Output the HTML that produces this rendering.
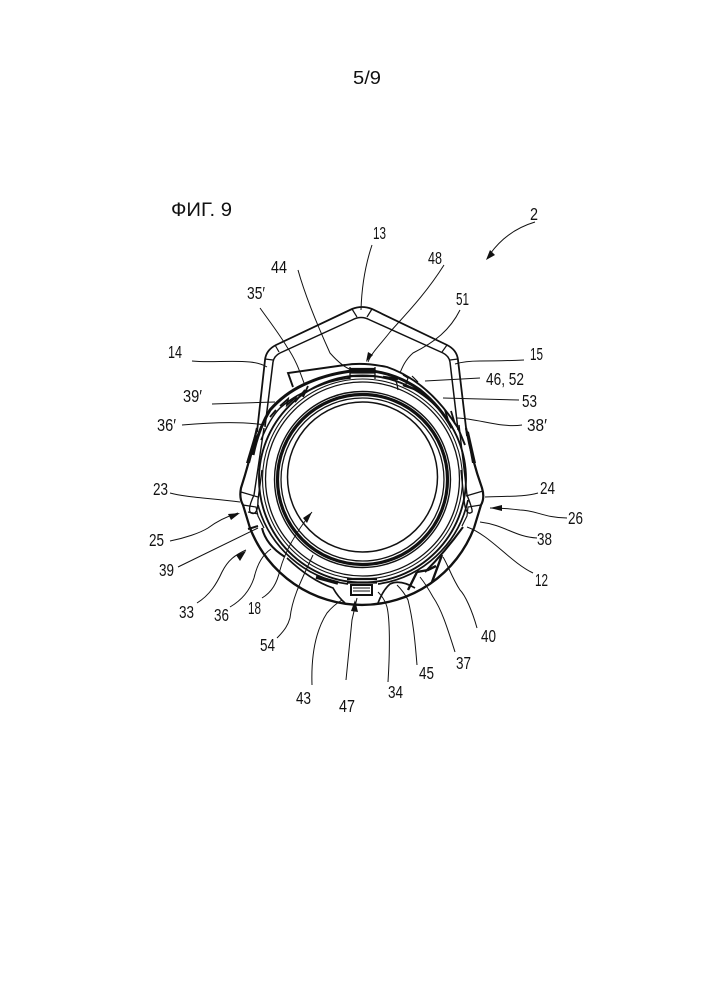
<!DOCTYPE html>
<html><head><meta charset="utf-8"><style>
html,body{margin:0;padding:0;background:#fff}
svg{display:block}
text{font-family:"Liberation Sans",sans-serif;fill:#111}
.l{font-size:17.5px}
</style></head><body>
<svg width="706" height="999" viewBox="0 0 706 999" xmlns="http://www.w3.org/2000/svg">
<text x="353" y="84" font-size="18" textLength="28" lengthAdjust="spacingAndGlyphs">5/9</text>
<text x="171" y="216" font-size="19" textLength="61" lengthAdjust="spacingAndGlyphs">ФИГ. 9</text>
<g fill="none" stroke="#111" stroke-width="1.2">
<!-- handle -->
<path stroke-width="1.800" d="M257 432L265 360Q266 350 276 345L352 309Q362 305 372 309L447 345Q457 350 458 360L467 436"/>
<path stroke-width="1.500" d="M265 427L273 362Q274 356 280 353L352 320Q361 315 370 320L443 353Q449 356 450 362L458 430"/>
<path d="M275 345L279 352M447 345L442 352M352 309L357 317M372 309L367 317M265 359L273 360M458 359L450 360"/>
<!-- outer body sides -->
<path stroke-width="2.200" d="M257 428Q250 460 241 488Q239 498 243 505L250 528"/>
<path stroke-width="2.200" d="M466 428Q472 460 482 488Q485 498 481 505L474 528"/>
<!-- shell lower arc -->
<path stroke-width="2.400" d="M250 528A120 120 0 0 0 474 528"/>
<!-- rings -->
<circle cx="362.500" cy="479" r="103.500" stroke-width="1.900"/>
<circle cx="362.500" cy="479" r="100" stroke-width="1.100"/>
<circle cx="362.500" cy="479" r="97" stroke-width="1.300"/>
<circle cx="362.500" cy="479.500" r="88" stroke-width="1.400"/>
<circle cx="362.500" cy="479.500" r="85" stroke-width="3.200"/>
<circle cx="362.500" cy="479.500" r="81.500" stroke-width="1.300"/>
<circle cx="362.500" cy="477" r="75" stroke-width="1.500"/>
<!-- upper shell arcs -->
<path stroke-width="1.900" d="M293 387L288 373L345 365Q363 362 387 367Q428 381 458 428L465 445"/>
<path stroke-width="3" d="M253 455Q258 430 270 410Q284 394 303 385Q330 372 363 370Q395 372 420 390Q440 406 452 428"/>
<path stroke-width="1.500" d="M261 440Q270 418 280 408Q295 395 310 390Q330 380 350 378"/>
<!-- top detail -->
<path stroke-width="2.200" d="M350 369H375M350 372.500H375M350 376H375"/>
<path stroke-width="1.300" d="M350 367V379M375 367V379"/>
<path stroke-width="2.400" d="M383 377L398 379M403 385L420 391"/>
<path d="M393 375L397 384L398 390M403 375L408 378L405 387M412 376L418 382"/>
<path stroke-width="1.800" d="M280 406L288 399L287 405L296 397L295 402L305 390L303 397L308 386M270 417L276 410M445 410L448 420M451 411L455 424"/>
<!-- wedges -->
<path fill="#111" stroke="none" d="M255 433L257 436L250 463L246 463Z"/>
<path fill="#111" stroke="none" d="M466 430L469 432L476 463L472 463Z"/>
<!-- side clips -->
<path stroke-width="1.400" d="M264 428L254 495Q247 510 251 513Q258 516 258 500L262 470M459 425L467 495Q473 510 472 512Q466 517 464 500L461 470"/>
<path d="M241 492L258 497M483 491L466 496M243 505L256 507L258 516L264 528M481 505L468 507L467 516L462 526M248 512L258 514"/>
<path stroke-width="2" d="M248 529L258 526"/>
<path stroke-width="2" d="M262 528Q266 545 285 557M463 527Q445 552 425 572"/>
<!-- lower inner arcs -->
<path stroke-width="1.700" d="M258 505A108 108 0 0 0 348 584M378 584A108 108 0 0 0 468 500"/>
<path stroke-width="1.700" d="M287 558Q310 580 333 588Q338 597 345 603M378 603Q383 590 390 584Q400 579 415 588"/>
<!-- bottom detail -->
<path stroke-width="2" d="M351 585H372V595H351Z"/>
<path stroke-width="2.200" d="M347 579H377M347 582.500H377"/>
<path stroke-width="1" d="M353 588H370M353 591H370"/>
<path stroke-width="3.500" d="M316 577L338 583"/>
<path stroke-width="2.400" d="M408 590L417 572M432 582L442 555M417 572L428 570L436 566"/>
</g>
<!-- leader lines -->
<g fill="none" stroke="#111" stroke-width="1">
<path d="M535 222C515 228 500 240 490 254"/>
<path d="M372 245Q362 275 361 310"/>
<path d="M298 270C305 295 315 320 330 353C338 362 345 368 352 370"/>
<path d="M444 265C425 295 405 315 390 332C380 345 372 352 368 362"/>
<path d="M460 310C450 330 435 342 413 353C405 360 402 368 400 373"/>
<path d="M260 308C270 322 280 335 287 347C296 360 300 372 304 383"/>
<path d="M192 361C210 363 230 360 250 362Q260 363 267 367"/>
<path d="M455 364Q465 361 480 361Q500 361 524 360"/>
<path d="M212 404L275 402"/>
<path d="M182 425C205 423 240 421 265 425"/>
<path d="M425 381L480 378"/>
<path d="M443 398L519 400"/>
<path d="M457 418C480 419 500 428 522 425"/>
<path d="M170 493C185 497 207 498 240 502"/>
<path d="M485 497C505 496 525 497 538 493"/>
<path d="M170 541C185 538 200 533 208 528C216 522 225 517 238 513"/>
<path d="M178 567L258 528"/>
<path d="M197 603C210 595 217 583 222 572C228 560 235 555 246 550"/>
<path d="M230 607C242 600 250 590 254 578C257 565 262 555 271 549"/>
<path d="M262 598C272 592 277 583 280 570C284 555 292 537 312 512"/>
<path d="M277 638C285 630 288 625 290 618C292 600 298 587 313 555"/>
<path d="M567 518C545 518 535 510 520 510Q505 508 490 508"/>
<path d="M537 538C515 537 505 525 480 522"/>
<path d="M533 573C510 562 490 535 467 527"/>
<path d="M477 628C472 610 465 595 460 590C452 578 448 565 443 557"/>
<path d="M455 652C448 630 442 610 433 597C428 588 424 582 420 577"/>
<path d="M417 665C415 640 413 620 408 600C405 594 400 588 397 585"/>
<path d="M388 682C390 650 390 620 387 607C385 600 382 596 378 592"/>
<path d="M346 680L352 620L357 598"/>
<path d="M312 685C311 655 316 630 327 613C332 607 337 603 342 600"/>
</g>
<g fill="#111">
<path d="M486 260L490 250L495 255Z"/>
<path d="M366 362L368 352L373 355Z"/>
<path d="M240 513L228 514L231 520Z"/>
<path d="M246 551L236 555L240 561Z"/>
<path d="M312 512L303 518L307 523Z"/>
<path d="M355 600L351 611L358 612Z"/>
<path d="M490 508L502 505L502 511Z"/>
</g>
<!-- labels -->
<g>
<text class="l" x="530" y="220" textLength="8" lengthAdjust="spacingAndGlyphs">2</text>
<text class="l" x="373" y="239" textLength="13" lengthAdjust="spacingAndGlyphs">13</text>
<text class="l" x="428" y="264" textLength="14" lengthAdjust="spacingAndGlyphs">48</text>
<text class="l" x="271" y="273" textLength="16" lengthAdjust="spacingAndGlyphs">44</text>
<text class="l" x="247" y="299" textLength="18" lengthAdjust="spacingAndGlyphs">35′</text>
<text class="l" x="456" y="305" textLength="13" lengthAdjust="spacingAndGlyphs">51</text>
<text class="l" x="168" y="358" textLength="14" lengthAdjust="spacingAndGlyphs">14</text>
<text class="l" x="530" y="360" textLength="13" lengthAdjust="spacingAndGlyphs">15</text>
<text class="l" x="486" y="385" textLength="38" lengthAdjust="spacingAndGlyphs">46, 52</text>
<text class="l" x="183" y="402" textLength="19" lengthAdjust="spacingAndGlyphs">39′</text>
<text class="l" x="522" y="407" textLength="15" lengthAdjust="spacingAndGlyphs">53</text>
<text class="l" x="157" y="431" textLength="19" lengthAdjust="spacingAndGlyphs">36′</text>
<text class="l" x="527" y="431" textLength="20" lengthAdjust="spacingAndGlyphs">38′</text>
<text class="l" x="153" y="495" textLength="15" lengthAdjust="spacingAndGlyphs">23</text>
<text class="l" x="540" y="494" textLength="15" lengthAdjust="spacingAndGlyphs">24</text>
<text class="l" x="568" y="524" textLength="15" lengthAdjust="spacingAndGlyphs">26</text>
<text class="l" x="149" y="546" textLength="15" lengthAdjust="spacingAndGlyphs">25</text>
<text class="l" x="537" y="545" textLength="15" lengthAdjust="spacingAndGlyphs">38</text>
<text class="l" x="159" y="576" textLength="15" lengthAdjust="spacingAndGlyphs">39</text>
<text class="l" x="535" y="586" textLength="13" lengthAdjust="spacingAndGlyphs">12</text>
<text class="l" x="179" y="618" textLength="15" lengthAdjust="spacingAndGlyphs">33</text>
<text class="l" x="214" y="621" textLength="15" lengthAdjust="spacingAndGlyphs">36</text>
<text class="l" x="248" y="614" textLength="13" lengthAdjust="spacingAndGlyphs">18</text>
<text class="l" x="481" y="642" textLength="15" lengthAdjust="spacingAndGlyphs">40</text>
<text class="l" x="260" y="651" textLength="15" lengthAdjust="spacingAndGlyphs">54</text>
<text class="l" x="456" y="669" textLength="15" lengthAdjust="spacingAndGlyphs">37</text>
<text class="l" x="419" y="679" textLength="15" lengthAdjust="spacingAndGlyphs">45</text>
<text class="l" x="388" y="698" textLength="15" lengthAdjust="spacingAndGlyphs">34</text>
<text class="l" x="296" y="704" textLength="15" lengthAdjust="spacingAndGlyphs">43</text>
<text class="l" x="339" y="712" textLength="16" lengthAdjust="spacingAndGlyphs">47</text>
</g>
</svg>
</body></html>
